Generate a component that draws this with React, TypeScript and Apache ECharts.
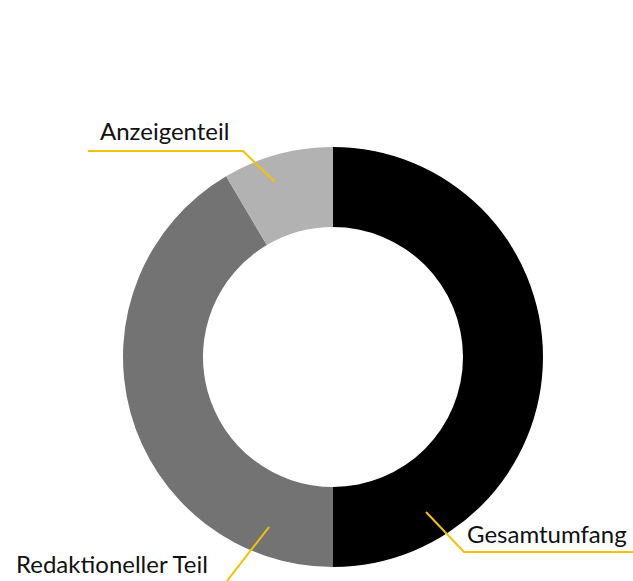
import React, { useEffect, useRef } from "react";
import * as echarts from "echarts";

const categories = ["Gesamtumfang", "Redaktioneller Teil", "Anzeigenteil"];
const values = [100, 83, 17];
const colors = ["#000000", "#737373", "#b2b2b2"];

// label layout (pixel positions of the leader lines and texts)
const labelLines: number[][][] = [
  [[426, 512], [464, 552], [640, 552]],
  [[269, 527], [220, 590], [0, 590]],
  [[275, 182], [243, 151], [88, 151]],
];
const labelPos: { x: number; y: number }[] = [
  { x: 467, y: 533 },
  { x: 16, y: 563 },
  { x: 100, y: 130 },
];

export default function App() {
  const ref = useRef<HTMLDivElement>(null);
  useEffect(() => {
    if (!ref.current) return;
    const chart = echarts.init(ref.current, undefined, { renderer: "svg" });
    const common = {
      type: "pie",
      center: [333, 357],
      radius: [130, 210],
      startAngle: 90,
      clockwise: true,
      silent: true,
      emphasis: { disabled: true },
    };
    chart.setOption({
      animation: false,
      series: [
        {
          ...common,
          z: 2,
          label: { show: false },
          labelLine: { show: false },
          data: categories.map((name, i) => ({
            name,
            value: values[i],
            itemStyle: { color: colors[i] },
          })),
        },
        {
          ...common,
          z: 5,
          label: {
            show: true,
            position: "outside",
            formatter: "{b}",
            fontFamily: "Lato, 'Noto Sans', sans-serif",
            fontSize: 24,
            color: "#111111",
            overflow: "none",
            width: 400,
          },
          labelLine: {
            show: true,
            lineStyle: { color: "#f5c100", width: 2 },
          },
          labelLayout: (params: any) => {
            const i = params.dataIndex;
            return {
              x: labelPos[i].x,
              y: labelPos[i].y,
              align: "left",
              verticalAlign: "middle",
              labelLinePoints: labelLines[i],
            };
          },
          data: categories.map((name, i) => ({
            name,
            value: values[i],
            itemStyle: { color: "rgba(0,0,0,0)" },
          })),
        },
      ],
    });
    return () => chart.dispose();
  }, []);
  return (
    <div
      ref={ref}
      style={{ position: "fixed", left: 0, top: 0, width: 633, height: 581, background: "#fff" }}
    />
  );
}
